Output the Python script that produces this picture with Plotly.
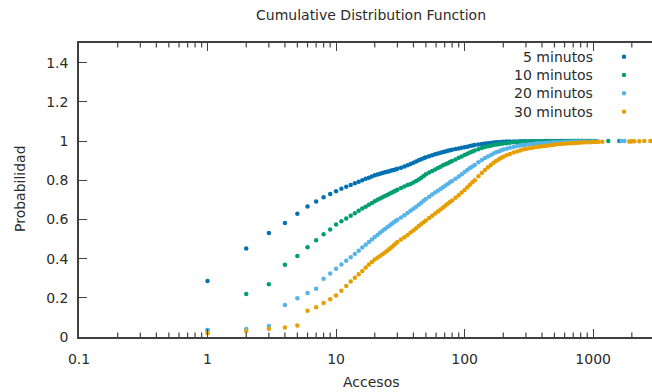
import math
import plotly.graph_objects as go

# Shared grid of access counts for the dense part of the CDFs
accesos = (
    list(range(1, 31))
    + [32, 34, 36, 38, 40, 42, 44, 46, 48, 50]
    + [53, 56, 59, 62, 65, 68, 71, 74, 77, 80]
    + [85, 90, 95, 100, 105, 110, 115, 120]
    + [128, 136, 144, 152, 160, 168, 176, 184, 192, 200]
    + [212, 225, 240, 255, 270, 285, 300]
    + [320, 340, 360, 380, 400, 425, 450, 475, 500, 530,
       560, 590, 620, 655, 690, 730, 770, 810, 850, 890]
)

prob_5 = [
    0.286, 0.451, 0.530, 0.581, 0.629, 0.666, 0.691, 0.713, 0.730, 0.744,
    0.756, 0.766, 0.776, 0.784, 0.792, 0.800, 0.807, 0.813, 0.819, 0.825,
    0.829, 0.833, 0.837, 0.840, 0.843, 0.846, 0.849, 0.852, 0.855, 0.858,
    0.864, 0.870, 0.876, 0.883, 0.889, 0.896, 0.902, 0.907, 0.912, 0.917,
    0.922, 0.927, 0.932, 0.936, 0.940, 0.944, 0.947, 0.950, 0.953, 0.955,
    0.959, 0.962, 0.965, 0.968, 0.971, 0.974, 0.977, 0.979,
    0.982, 0.985, 0.987, 0.989, 0.990, 0.992, 0.993, 0.994, 0.995, 0.996,
    0.997, 0.997, 0.998, 0.998, 0.999, 0.999, 0.999,
    0.999, 0.999, 0.999, 0.999, 0.999, 1.0, 1.0, 1.0, 1.0, 1.0,
    1.0, 1.0, 1.0, 1.0, 1.0, 1.0, 1.0, 1.0, 1.0, 1.0,
]
prob_10 = [
    0.036, 0.220, 0.269, 0.369, 0.413, 0.458, 0.493, 0.524, 0.549, 0.574,
    0.590, 0.605, 0.619, 0.632, 0.644, 0.655, 0.665, 0.675, 0.684, 0.693,
    0.700, 0.707, 0.713, 0.719, 0.725, 0.731, 0.736, 0.741, 0.746, 0.751,
    0.760, 0.768, 0.775, 0.781, 0.788, 0.796, 0.804, 0.813, 0.822, 0.830,
    0.839, 0.847, 0.855, 0.862, 0.869, 0.876, 0.882, 0.887, 0.893, 0.898,
    0.906, 0.914, 0.921, 0.928, 0.935, 0.941, 0.946, 0.951,
    0.958, 0.964, 0.969, 0.973, 0.976, 0.979, 0.982, 0.984, 0.986, 0.987,
    0.989, 0.991, 0.993, 0.994, 0.995, 0.996, 0.997,
    0.997, 0.998, 0.998, 0.998, 0.998, 0.999, 0.999, 0.999, 0.999, 0.999,
    0.999, 0.999, 1.0, 1.0, 1.0, 1.0, 1.0, 1.0, 1.0, 1.0,
]
prob_20 = [
    0.034, 0.041, 0.056, 0.163, 0.198, 0.224, 0.246, 0.297, 0.324, 0.348,
    0.370, 0.389, 0.407, 0.424, 0.440, 0.456, 0.471, 0.485, 0.498, 0.510,
    0.521, 0.532, 0.542, 0.551, 0.560, 0.568, 0.576, 0.584, 0.591, 0.598,
    0.610, 0.621, 0.633, 0.644, 0.654, 0.665, 0.675, 0.685, 0.695, 0.704,
    0.716, 0.727, 0.737, 0.746, 0.755, 0.764, 0.773, 0.781, 0.789, 0.796,
    0.808, 0.819, 0.830, 0.842, 0.852, 0.862, 0.870, 0.878,
    0.892, 0.903, 0.913, 0.921, 0.929, 0.936, 0.942, 0.947, 0.952, 0.956,
    0.961, 0.966, 0.970, 0.974, 0.977, 0.979, 0.981,
    0.983, 0.985, 0.987, 0.988, 0.989, 0.990, 0.991, 0.992, 0.993, 0.994,
    0.994, 0.995, 0.995, 0.996, 0.996, 0.997, 0.997, 0.997, 0.998, 0.998,
]
prob_30 = [
    0.019, 0.031, 0.042, 0.049, 0.059, 0.134, 0.152, 0.173, 0.192, 0.212,
    0.236, 0.260, 0.283, 0.302, 0.320, 0.337, 0.354, 0.370, 0.383, 0.395,
    0.404, 0.413, 0.422, 0.431, 0.440, 0.449, 0.458, 0.467, 0.476, 0.485,
    0.497, 0.509, 0.521, 0.533, 0.544, 0.555, 0.566, 0.576, 0.586, 0.595,
    0.607, 0.619, 0.630, 0.640, 0.650, 0.661, 0.671, 0.680, 0.689, 0.697,
    0.710, 0.723, 0.737, 0.750, 0.764, 0.777, 0.789, 0.800,
    0.820, 0.837, 0.852, 0.866, 0.878, 0.889, 0.898, 0.906, 0.913, 0.920,
    0.927, 0.934, 0.941, 0.947, 0.952, 0.956, 0.959,
    0.963, 0.966, 0.969, 0.971, 0.973, 0.975, 0.977, 0.979, 0.981, 0.983,
    0.985, 0.986, 0.987, 0.988, 0.989, 0.990, 0.991, 0.992, 0.993, 0.993,
]

# Sparse tails (large, rare access counts)
tail_x_5 = [950, 1050, 1600]
tail_y_5 = [1.0, 1.0, 1.0]
tail_x_10 = [940, 1000, 1312]
tail_y_10 = [1.0, 1.0, 1.0]
tail_x_20 = [950, 1000, 1070, 1650, 1750]
tail_y_20 = [0.998, 0.999, 0.999, 1.0, 1.0]
tail_x_30 = [950, 1000, 1050, 1100, 1178, 1911, 1960, 2010, 2091, 2287, 2501, 2787]
tail_y_30 = [0.994, 0.995, 0.995, 0.996, 0.996, 0.998, 0.998, 0.999, 0.999, 0.999, 1.0, 1.0]

series_names = ["5 minutos", "10 minutos", "20 minutos", "30 minutos"]
series_colors = ["#0072b2", "#009e73", "#56b4e9", "#e69f00"]
series_y = [prob_5, prob_10, prob_20, prob_30]
series_tx = [tail_x_5, tail_x_10, tail_x_20, tail_x_30]
series_ty = [tail_y_5, tail_y_10, tail_y_20, tail_y_30]

FONT = "DejaVu Sans"
TEXT = "#2b2b2b"
AXIS = "#404040"

W, H = 652, 392
ML, MR, MT, MB = 79, 0, 43, 55
pw = W - ML - MR
ph = H - MT - MB
X_LOG_RANGE = [-1, 3.458]


def px_x(px):
    return (px - ML) / pw


def px_y(py):
    return (H - MB - py) / ph


fig = go.Figure()
for name, color, ys, tx, ty in zip(series_names, series_colors, series_y, series_tx, series_ty):
    fig.add_trace(go.Scatter(
        x=accesos + tx, y=ys + ty, mode="markers", name=name,
        marker=dict(color=color, size=4.5, line=dict(width=0)),
        showlegend=False, cliponaxis=True,
    ))

# Key: right-aligned labels with a dot to their right
annotations = []
shapes = []
key_rows = [56.7, 75.0, 93.3, 111.7]
for name, color, row in zip(series_names, series_colors, key_rows):
    annotations.append(dict(
        text=name, x=px_x(595), y=px_y(row), xref="paper", yref="paper",
        xanchor="right", yanchor="middle", showarrow=False,
        font=dict(family=FONT, size=14, color=TEXT),
    ))
    shapes.append(dict(
        type="circle", xref="paper", yref="paper",
        xsizemode="pixel", ysizemode="pixel",
        xanchor=px_x(624), yanchor=px_y(row),
        x0=-2.2, x1=2.2, y0=-2.2, y1=2.2,
        fillcolor=color, line=dict(width=0),
    ))

# Minor log ticks (2..9 of each decade) on the bottom and top borders
span = X_LOG_RANGE[1] - X_LOG_RANGE[0]
for dec in range(-1, 4):
    for k in range(2, 10):
        lv = math.log10(k * 10 ** dec)
        if lv >= X_LOG_RANGE[1]:
            continue
        xp = (lv - X_LOG_RANGE[0]) / span
        for anchor, (a, b) in ((0, (0, 4.5)), (1, (-4.5, 0))):
            shapes.append(dict(
                type="line", xref="paper", yref="paper",
                ysizemode="pixel", yanchor=anchor,
                x0=xp, x1=xp, y0=a, y1=b,
                line=dict(color=AXIS, width=1.2),
            ))

annotations += [
    dict(text="Cumulative Distribution Function", x=px_x(371), y=px_y(15),
         xref="paper", yref="paper", xanchor="center", yanchor="middle",
         showarrow=False, font=dict(family=FONT, size=14, color=TEXT)),
    dict(text="Accesos", x=px_x(371), y=px_y(382.5),
         xref="paper", yref="paper", xanchor="center", yanchor="middle",
         showarrow=False, font=dict(family=FONT, size=14, color=TEXT)),
    dict(text="Probabilidad", x=px_x(20), y=px_y(189), textangle=-90,
         xref="paper", yref="paper", xanchor="center", yanchor="middle",
         showarrow=False, font=dict(family=FONT, size=14, color=TEXT)),
]

fig.update_layout(
    width=W, height=H,
    margin=dict(l=ML, r=MR, t=MT, b=MB, pad=0),
    paper_bgcolor="white", plot_bgcolor="white",
    font=dict(family=FONT, size=14, color=TEXT),
    showlegend=False,
    annotations=annotations,
    shapes=shapes,
    xaxis=dict(
        type="log", range=X_LOG_RANGE, dtick=1, exponentformat="none",
        showgrid=False, zeroline=False,
        showline=True, linecolor=AXIS, linewidth=1.5,
        mirror="allticks", ticks="inside", ticklen=8, tickwidth=1.2, tickcolor=AXIS,
        tickfont=dict(family=FONT, size=14, color=TEXT),
        ticklabelstandoff=8,
    ),
    yaxis=dict(
        range=[0, 1.5], dtick=0.2, tick0=0,
        showgrid=False, zeroline=False,
        showline=True, linecolor=AXIS, linewidth=1.5, mirror=False,
        ticks="inside", ticklen=8, tickwidth=1.2, tickcolor=AXIS,
        tickfont=dict(family=FONT, size=14, color=TEXT),
        ticklabelstandoff=6,
    ),
)

fig.write_html("out.html")
